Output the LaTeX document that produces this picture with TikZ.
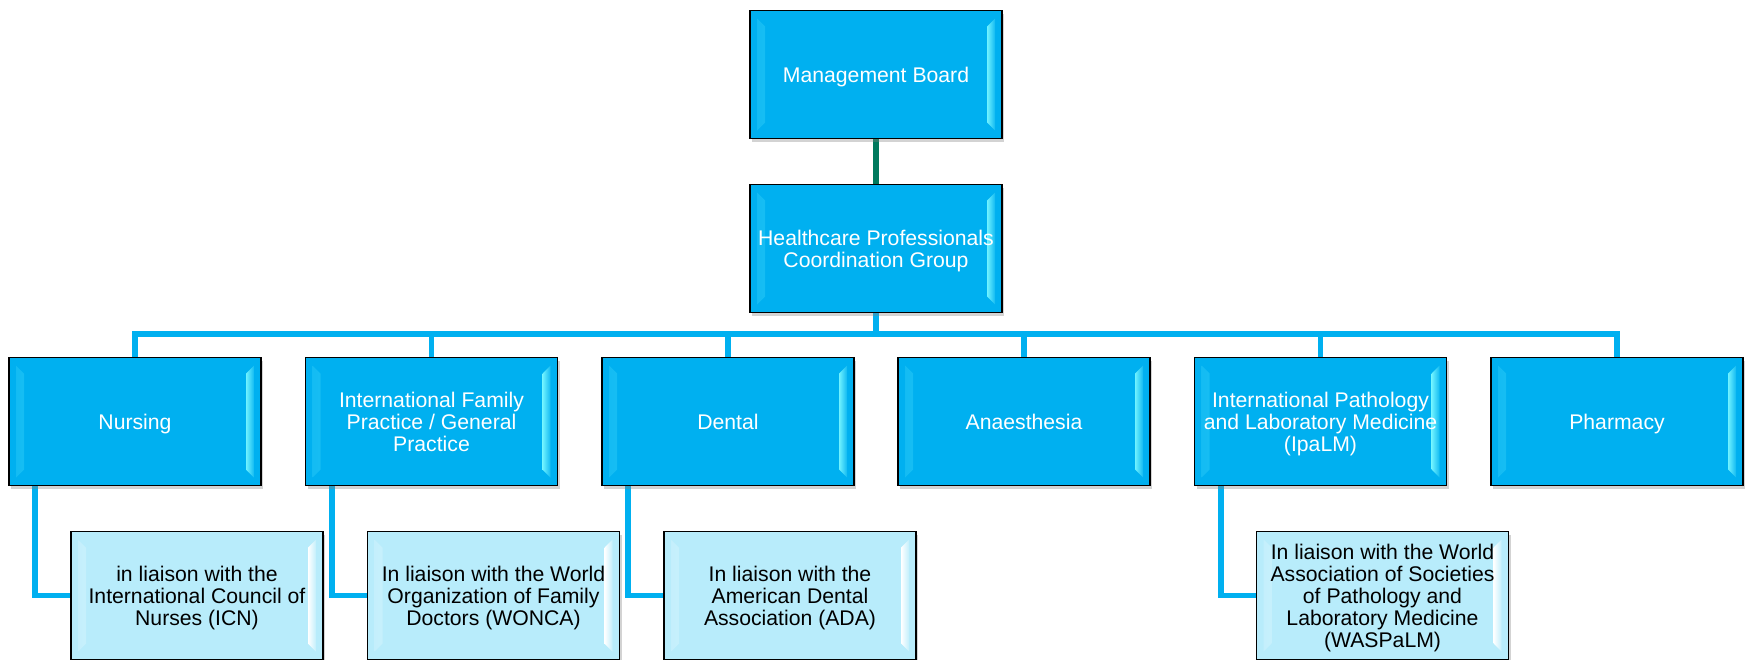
\documentclass[tikz,border=0pt]{standalone}
\usepackage{fontspec}
\setmainfont{Liberation Sans}
\usetikzlibrary{shadows}
\usetikzlibrary{backgrounds}

\definecolor{boxblue}{HTML}{00B0F0}
\definecolor{boxlight}{HTML}{B8ECFB}
\definecolor{bevelblue}{HTML}{70F2FF}
\definecolor{bevellight}{HTML}{FFFFFF}
\definecolor{linkgreen}{HTML}{007A5E}

\tikzset{
  bevel/.style 2 args={path picture={
    \shade[left color=#1!85!#2, right color=#2] ([xshift=3.5pt,yshift=-4pt]path picture bounding box.north west) -- ([xshift=7.5pt,yshift=-8pt]path picture bounding box.north west)
      -- ([xshift=7.5pt,yshift=8pt]path picture bounding box.south west) -- ([xshift=3.5pt,yshift=4pt]path picture bounding box.south west) -- cycle;
    \shade[left color=#2, right color=#1!85!#2] ([xshift=-3.5pt,yshift=-4pt]path picture bounding box.north east) -- ([xshift=-7.5pt,yshift=-8pt]path picture bounding box.north east)
      -- ([xshift=-7.5pt,yshift=8pt]path picture bounding box.south east) -- ([xshift=-3.5pt,yshift=4pt]path picture bounding box.south east) -- cycle;
  }},
  orgbox/.style={draw=black, line width=0.8pt, fill=boxblue, text=white, minimum width=126pt, minimum height=64pt,
    inner sep=0pt, text depth=0pt, align=center, font=\fontsize{10.6}{11}\selectfont,
    drop shadow={opacity=0.35, shadow xshift=1pt, shadow yshift=-1.5pt}, bevel={boxblue}{bevelblue}},
  liaisonbox/.style={orgbox, fill=boxlight, text=black, bevel={boxlight}{bevellight}},
  link/.style={draw=boxblue, line width=2.8pt},
}

\begin{document}
\begin{tikzpicture}[x=.5pt,y=-.5pt]
\useasboundingbox (0,0) rectangle (1746,659);
\clip (0,0) rectangle (1746,659);

\node[orgbox] (board) at (876,74.5) {Management Board};
\node[orgbox] (hpcg) at (876,248.5) {Healthcare Professionals\\Coordination Group};
\coordinate (bus) at (876,334); % horizontal bar

% second row
\node[orgbox] (nursing) at (135,421.5) {Nursing};
\node[orgbox] (family) at (431.5,421.5) {International Family\\Practice / General\\Practice};
\node[orgbox] (dental) at (728,421.5) {Dental};
\node[orgbox] (anaesthesia) at (1024,421.5) {Anaesthesia};
\node[orgbox] (pathology) at (1320.5,421.5) {International Pathology\\and Laboratory Medicine\\(IpaLM)};
\node[orgbox] (pharmacy) at (1617,421.5) {Pharmacy};

% liaison boxes
\node[liaisonbox] (icn) at (197,595.5) {in liaison with the\\International Council of\\Nurses (ICN)};
\node[liaisonbox] (wonca) at (493.5,595.5) {In liaison with the World\\Organization of Family\\Doctors (WONCA)};
\node[liaisonbox] (ada) at (790,595.5) {In liaison with the\\American Dental\\Association (ADA)};
\node[liaisonbox] (waspalm) at (1382.5,595.5) {In liaison with the World\\Association of Societies\\of Pathology and\\Laboratory Medicine\\(WASPaLM)};

\begin{scope}[on background layer]
\draw[link, draw=linkgreen] (board) -- (hpcg);
\draw[link] (hpcg) -- (bus);
\draw[link] (bus) -| (nursing);
\draw[link] (bus) -| (family);
\draw[link] (bus) -| (dental);
\draw[link] (bus) -| (anaesthesia);
\draw[link] (bus) -| (pathology);
\draw[link] (bus) -| (pharmacy);

\draw[link] ([xshift=13.5pt]nursing.south west) |- (icn.west);
\draw[link] ([xshift=13.5pt]family.south west) |- (wonca.west);
\draw[link] ([xshift=13.5pt]dental.south west) |- (ada.west);
\draw[link] ([xshift=13.5pt]pathology.south west) |- (waspalm.west);
\end{scope}

\end{tikzpicture}
\end{document}
